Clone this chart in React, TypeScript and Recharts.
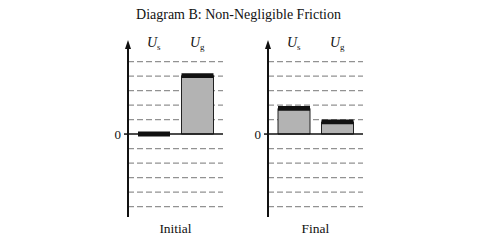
import React from "react";
import { BarChart, Bar, XAxis, YAxis, ReferenceLine, CartesianGrid } from "recharts";

const categories = ["Us", "Ug"];
const subscripts = ["s", "g"];
const initialEnergy = [0, 4.03];
const finalEnergy = [1.77, 0.84];
const gridTicks = [-5, -4, -3, -2, -1, 0, 1, 2, 3, 4, 5];
const panelLabels = ["Initial", "Final"];
const title = "Diagram B: Non-Negligible Friction";

const CAP_HALF = 0.17;
const FONT = "'Liberation Serif', 'DejaVu Serif', serif";

function buildData(values: number[]) {
  return categories.map((c, i) => ({
    cat: c,
    sub: subscripts[i],
    body: [0, values[i]],
    cap: [values[i] - CAP_HALF, values[i] + CAP_HALF],
  }));
}

const TopTick = (props: any) => {
  const { x, y, index } = props;
  const sub = subscripts[index] ?? "";
  return (
    <text x={x} y={y} dy={12} textAnchor="middle" fontFamily={FONT} fill="#111">
      <tspan fontStyle="italic" fontSize={14}>U</tspan>
      <tspan fontSize={9} dy={3}>{sub}</tspan>
    </text>
  );
};

const YTick = (props: any) => {
  const { x, y, payload } = props;
  if (payload.value !== 0) return null;
  return (
    <g>
      <line x1={x - 4} x2={x} y1={y} y2={y} stroke="#111" strokeWidth={1.5} />
      <text x={x - 7} y={y} dy={4.5} textAnchor="end" fontFamily={FONT} fontSize={13} fill="#111">
        0
      </text>
    </g>
  );
};

const ArrowLabel = (props: any) => {
  const vb = props.viewBox || {};
  const ax = vb.x + vb.width;
  const top = vb.y;
  return <polygon points={`${ax - 3},${top + 6} ${ax + 3},${top + 6} ${ax},${top - 3}`} fill="#111" />;
};

function Panel({ values, label, left }: { values: number[]; label: string; left: number }) {
  const data = buildData(values);
  return (
    <div style={{ position: "absolute", left, top: 0 }}>
      <BarChart
        width={130}
        height={250}
        data={data}
        margin={{ top: 23, right: 7, bottom: 13, left: 8 }}
        barGap={0}
      >
        <CartesianGrid
          vertical={false}
          horizontal
          horizontalValues={gridTicks.filter((t) => t !== 0)}
          stroke="#929292"
          strokeWidth={1.2}
          strokeDasharray="6 3"
          yAxisId="y"
          xAxisId="top"
        />
        <XAxis
          xAxisId="top"
          orientation="top"
          dataKey="cat"
          height={20}
          axisLine={false}
          tickLine={false}
          tick={<TopTick />}
          padding={{ left: 4, right: 4 }}
        />
        <XAxis
          xAxisId="bottom"
          orientation="bottom"
          dataKey="cat"
          height={20}
          axisLine={false}
          tickLine={false}
          tick={false}
          padding={{ left: 4, right: 4 }}
          label={(p: any) => {
            const vb = p.viewBox || {};
            return (
              <text
                x={vb.x + vb.width / 2}
                y={vb.y + 16}
                textAnchor="middle"
                fontFamily={FONT}
                fontSize={13.5}
                fill="#111"
              >
                {label}
              </text>
            );
          }}
        />
        <YAxis
          yAxisId="y"
          width={20}
          domain={[-5.72, 6.28]}
          ticks={gridTicks}
          interval={0}
          type="number"
          allowDataOverflow
          axisLine={{ stroke: "#111", strokeWidth: 2 }}
          tickLine={false}
          tickSize={0}
          tickMargin={0}
          tick={<YTick />}
          label={<ArrowLabel />}
        />
        <ReferenceLine yAxisId="y" xAxisId="top" y={0} stroke="#111" strokeWidth={1.5} />
        <Bar
          xAxisId="top"
          yAxisId="y"
          dataKey="body"
          barSize={32}
          fill="#b3b3b3"
          stroke="#222"
          strokeWidth={1}
          isAnimationActive={false}
        />
        <Bar
          xAxisId="bottom"
          yAxisId="y"
          dataKey="cap"
          barSize={32}
          fill="#111"
          isAnimationActive={false}
        />
      </BarChart>
    </div>
  );
}

export default function App() {
  return (
    <div style={{ position: "absolute", left: 0, top: 0, width: 482, height: 250, background: "#fff" }}>
      <svg width={482} height={30} style={{ position: "absolute", left: 0, top: 0 }}>
        <text x={238.5} y={19} textAnchor="middle" fontFamily={FONT} fontSize={14} fill="#111">
          {title}
        </text>
      </svg>
      <Panel values={initialEnergy} label={panelLabels[0]} left={100} />
      <Panel values={finalEnergy} label={panelLabels[1]} left={240} />
    </div>
  );
}
